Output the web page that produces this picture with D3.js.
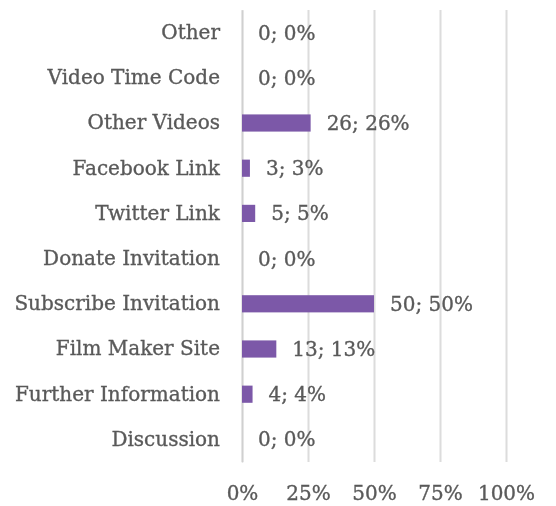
<!DOCTYPE html>
<html>
<head>
<meta charset="utf-8">
<script src="https://cdn.jsdelivr.net/npm/d3@7"></script>
<style>
  html, body { margin: 0; padding: 0; background: #fff; }
  svg { display: block; }
</style>
</head>
<body>
<svg id="chart" width="556" height="506"></svg>
<script>
// Categories listed top to bottom
const categories = [
  "Other", "Video Time Code", "Other Videos", "Facebook Link", "Twitter Link",
  "Donate Invitation", "Subscribe Invitation", "Film Maker Site",
  "Further Information", "Discussion"
];
const counts = [0, 0, 26, 3, 5, 0, 50, 13, 4, 0];
const percents = [0, 0, 26, 3, 5, 0, 50, 13, 4, 0];
const tickValues = [0, 25, 50, 75, 100];

const rows = categories.map((c, i) => ({ cat: c, n: counts[i], pct: percents[i] }));

const svg = d3.select("#chart");
const margin = { top: 10, right: 50, bottom: 44, left: 242 };
const W = 556, H = 506;

const x = d3.scaleLinear().domain([0, 100]).range([margin.left, W - margin.right]);
const y = d3.scaleBand().domain(categories).range([margin.top, H - margin.bottom]).paddingInner(0.62).paddingOuter(0.31);

const font = "DejaVu Serif, serif";
const fontSize = 20;
const textColor = "#5a5a5a";

const defs = svg.append("defs");
defs.append("filter").attr("id", "soft").append("feGaussianBlur").attr("stdDeviation", 0.55);
const g = svg.append("g").attr("filter", "url(#soft)");

function styleText(sel) {
  sel.attr("font-family", font)
    .attr("font-size", fontSize)
    .attr("fill", textColor)
    .attr("stroke", textColor)
    .attr("stroke-width", 0.35);
}

// Vertical gridlines
const grid = g.append("g")
  .attr("transform", `translate(0,${H - margin.bottom})`)
  .call(d3.axisBottom(x).tickValues(tickValues).tickSize(-(H - margin.top - margin.bottom)).tickFormat(""));
grid.select(".domain").remove();
grid.selectAll("line").attr("stroke", "#dcdcdc").attr("stroke-width", 2);

// Percentage tick labels
const xAxis = g.append("g")
  .attr("transform", `translate(0,${H - margin.bottom})`)
  .call(d3.axisBottom(x).tickValues(tickValues).tickSize(0).tickPadding(24).tickFormat(d => d + "%"));
xAxis.select(".domain").remove();
xAxis.selectAll("text").call(styleText);

// Category axis
const yAxis = g.append("g")
  .attr("transform", `translate(${margin.left},0)`)
  .call(d3.axisLeft(y).tickSize(0).tickPadding(22));
yAxis.select(".domain").attr("stroke", "#d0d0d0").attr("stroke-width", 1.5);
yAxis.selectAll("text").call(styleText);

// Bars
g.append("g").selectAll("rect").data(rows).join("rect")
  .attr("x", x(0))
  .attr("y", d => y(d.cat))
  .attr("width", d => x(d.pct) - x(0))
  .attr("height", y.bandwidth())
  .attr("fill", "#7b58a8");

// Value labels
g.append("g").selectAll("text").data(rows).join("text")
  .attr("x", d => x(d.pct) + 16)
  .attr("y", d => y(d.cat) + y.bandwidth() / 2)
  .attr("dy", "0.35em")
  .call(styleText)
  .text(d => `${d.n}; ${d.pct}%`);
</script>
</body>
</html>
